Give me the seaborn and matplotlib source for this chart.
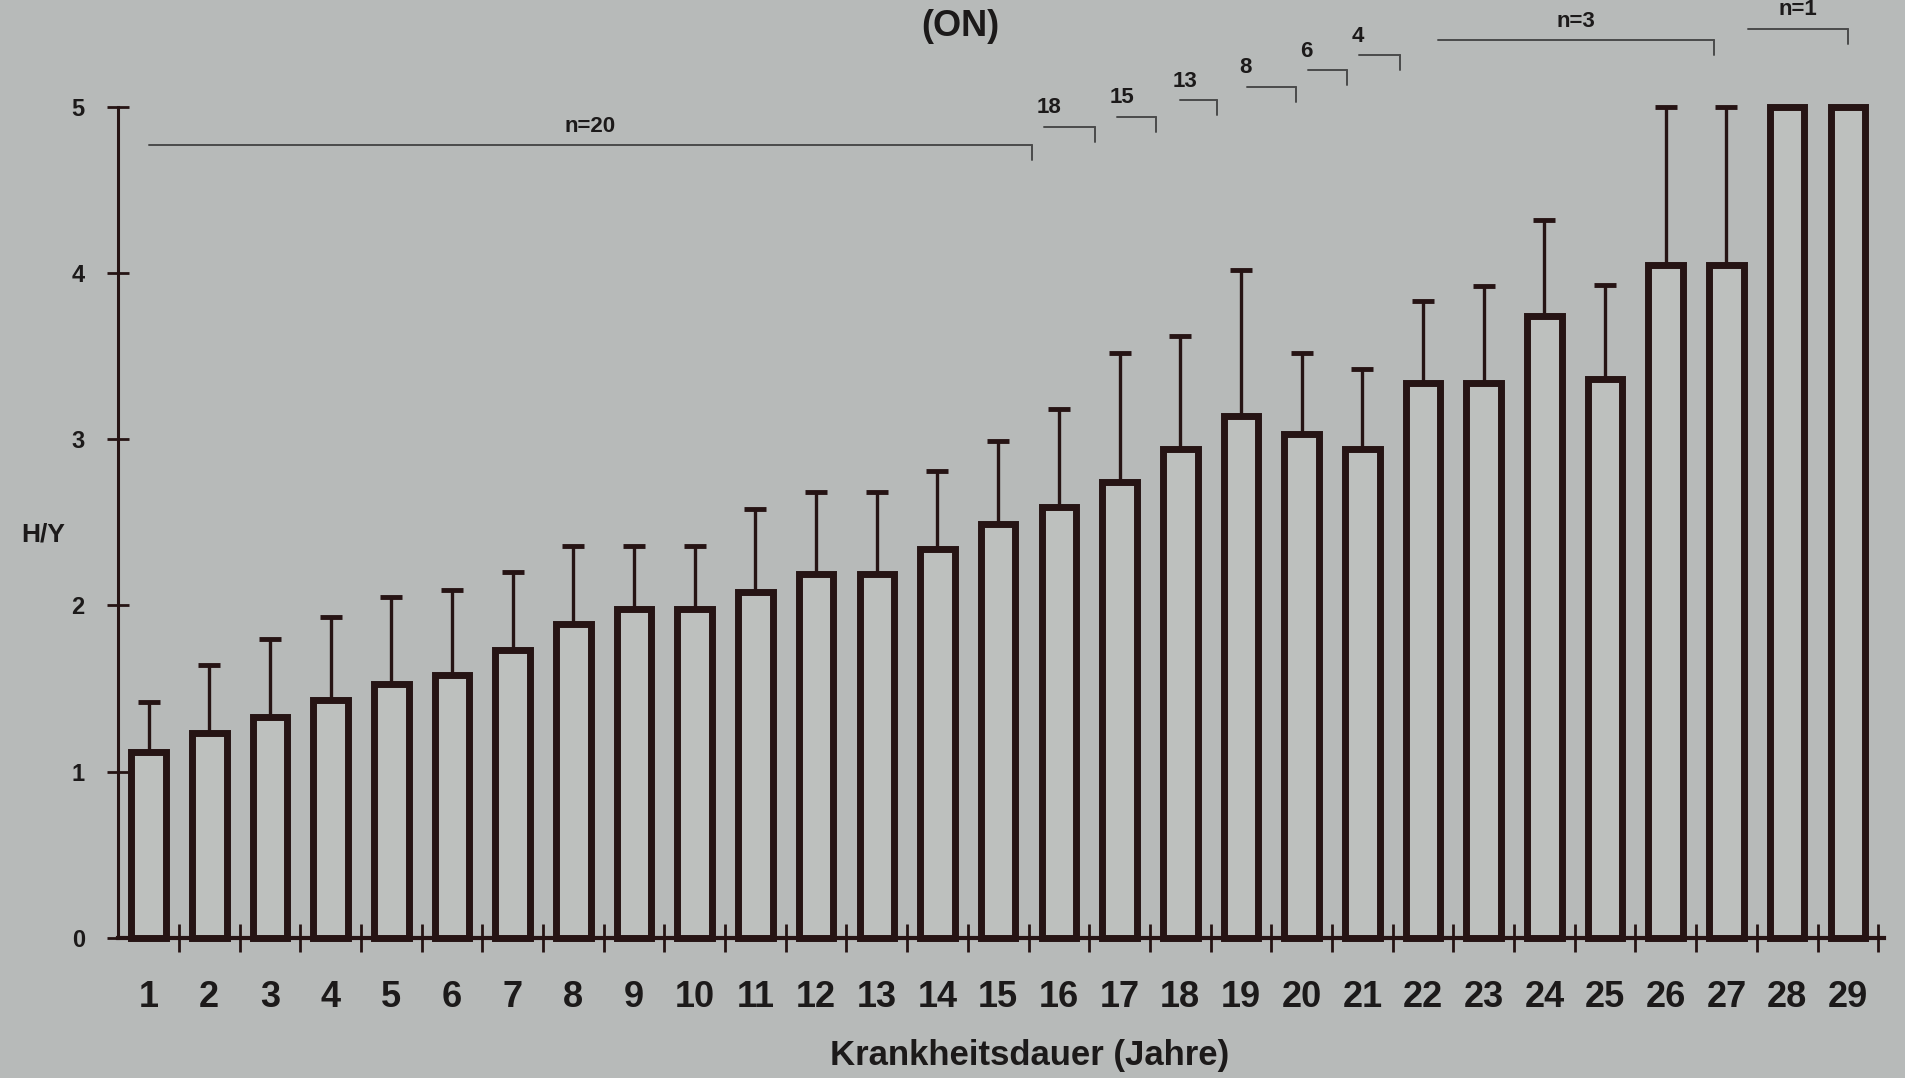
import numpy as np
import pandas as pd
import matplotlib
matplotlib.use("Agg")
import matplotlib.pyplot as plt
import seaborn as sns

# ---------------- data ----------------
years = [str(i) for i in range(1, 30)]
hy_mean = [1.12, 1.23, 1.33, 1.43, 1.53, 1.58, 1.73, 1.89, 1.98, 1.98,
           2.08, 2.19, 2.19, 2.34, 2.49, 2.59, 2.74, 2.94, 3.14, 3.03,
           2.94, 3.34, 3.34, 3.74, 3.36, 4.05, 4.05, 5.0, 5.0]
hy_upper = [1.42, 1.64, 1.80, 1.93, 2.05, 2.09, 2.20, 2.36, 2.36, 2.36,
            2.58, 2.68, 2.68, 2.81, 2.99, 3.18, 3.52, 3.62, 4.02, 3.52,
            3.42, 3.83, 3.92, 4.32, 3.93, 5.0, 5.0, 5.0, 5.0]
group_labels = ["n=20", "18", "15", "13", "8", "6", "4", "n=3", "n=1"]
y_ticks = [0, 1, 2, 3, 4, 5]

# ---------------- style ----------------
bg = "#b7bab9"
bar_fill = "#bdc0be"
ink = "#261414"
txt = "#1c1a1a"

sns.set_theme(style="white")
plt.rcParams["font.family"] = ["Liberation Sans", "DejaVu Sans"]

fig = plt.figure(figsize=(19.06, 10.78), dpi=100, facecolor=bg)
ax = fig.add_axes([0.062, 0.130, 0.9266, 0.771])
ax.set_facecolor("none")

df = pd.DataFrame({"Jahr": years, "HY": hy_mean})
sns.barplot(data=df, x="Jahr", y="HY", order=years, color=bar_fill,
            edgecolor=ink, linewidth=5, width=0.57, errorbar=None,
            saturation=1, ax=ax, zorder=3)
for p in ax.patches:
    p.set_clip_on(False)
    p.set_facecolor(bar_fill)

xpos = np.arange(len(years))
mean = np.array(hy_mean)
err = np.array(hy_upper) - mean
m = err > 0
ax.errorbar(xpos[m], mean[m], yerr=[np.zeros(m.sum()), err[m]], fmt="none",
            ecolor=ink, elinewidth=2.4, capsize=8, capthick=3.5,
            clip_on=False, zorder=2)

ax.set_xlim(-0.5, 28.6)
ax.set_ylim(0, 5)
sns.despine(ax=ax, top=True, right=True)
ax.spines["left"].set_linewidth(2.2)
ax.spines["left"].set_color(ink)
ax.spines["bottom"].set_linewidth(3)
ax.spines["bottom"].set_color(ink)

ax.set_yticks(y_ticks)
ax.set_yticklabels([str(v) for v in y_ticks])
ax.tick_params(axis="y", direction="inout", length=16, width=2, color=ink,
               labelsize=17, pad=16, labelcolor=txt, left=True)
ax.set_xticks(xpos)
ax.set_xticklabels(years)
ax.tick_params(axis="x", which="major", length=0, labelsize=26, pad=30,
               labelcolor=txt)
ax.set_xticks(np.arange(0.5, 29, 1), minor=True)
ax.tick_params(axis="x", which="minor", direction="inout", length=20,
               width=2, color=ink, bottom=True)
for lbl in ax.get_xticklabels() + ax.get_yticklabels():
    lbl.set_fontweight("bold")
ax.set_xlabel("")
ax.set_ylabel("")

# group size brackets (layout positions)
br_x0 = [0.0, 14.75, 15.95, 17.0, 18.1, 19.1, 19.95, 21.25, 26.35]
br_x1 = [14.55, 15.6, 16.6, 17.6, 18.9, 19.75, 20.62, 25.8, 28.0]
br_y = [4.77, 4.88, 4.94, 5.04, 5.12, 5.22, 5.31, 5.40, 5.47]
br_ha = ["center", "left", "left", "left", "left", "left", "left", "center", "center"]
for lab, x0, x1, y, ha in zip(group_labels, br_x0, br_x1, br_y, br_ha):
    ax.plot([x0, x1], [y, y], color="#4a4a4a", lw=1.4, clip_on=False)
    ax.plot([x1, x1], [y, y - 0.09], color="#4a4a4a", lw=1.4, clip_on=False)
    tx = (x0 + x1) / 2 if ha == "center" else x0 - 0.12
    ax.text(tx, y + 0.05, lab, ha=ha, va="bottom", fontsize=16,
            fontweight="bold", color=txt, clip_on=False)

fig.text(0.0225, 0.504, "H/Y", fontsize=19, fontweight="bold", color=txt,
         ha="center", va="center")
fig.text(0.54, 0.021, "Krankheitsdauer (Jahre)", fontsize=25,
         fontweight="bold", color=txt, ha="center", va="center")
fig.text(0.504, 0.975, "(ON)", fontsize=26, fontweight="bold", color=txt,
         ha="center", va="center")

fig.savefig("out.png", dpi=100, facecolor=bg)
